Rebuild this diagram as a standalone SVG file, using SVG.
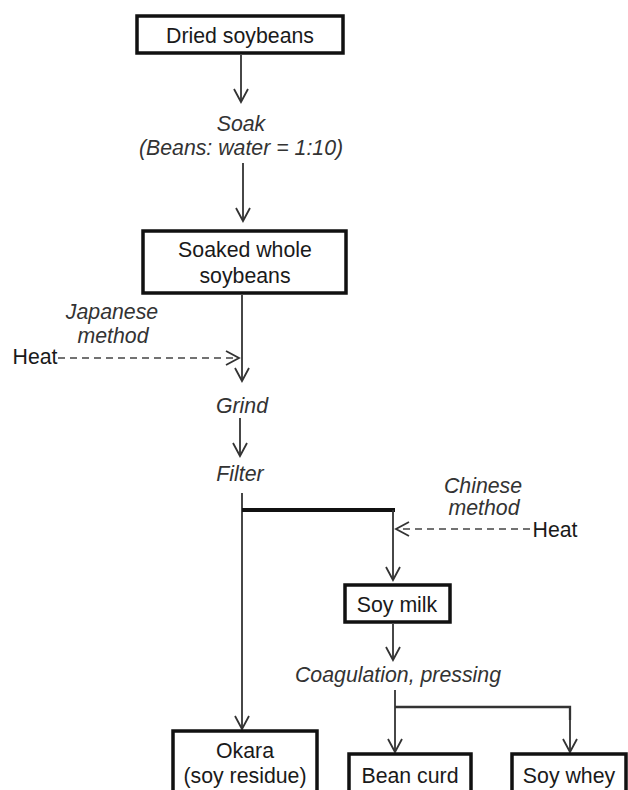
<svg xmlns="http://www.w3.org/2000/svg" width="628" height="790" viewBox="0 0 628 790">
<defs>
<style>
.box{fill:#fff;stroke:#111;stroke-width:3.5}
.t{font-family:"Liberation Sans",Arial,sans-serif;font-size:21.3px;fill:#1a1a1a;text-anchor:middle}
.i{font-family:"Liberation Sans",Arial,sans-serif;font-size:21.3px;font-style:italic;fill:#333;text-anchor:middle}
.ln{fill:none;stroke:#333;stroke-width:1.8}
.th{fill:none;stroke:#111;stroke-width:4}
.ds{fill:none;stroke:#444;stroke-width:1.6;stroke-dasharray:7,5}
</style>
<marker id="ah" viewBox="0 0 16 16" refX="14" refY="8" markerWidth="16" markerHeight="16" markerUnits="userSpaceOnUse" orient="auto">
<path d="M1,1 L14,8 L1,15" fill="none" stroke="#333" stroke-width="1.8"/>
</marker>
</defs>
<rect width="628" height="790" fill="#fff"/>
<g id="connectors">
<line class="ln" x1="241" y1="55" x2="241" y2="102" marker-end="url(#ah)"/>
<line class="ln" x1="243" y1="163" x2="243" y2="221" marker-end="url(#ah)"/>
<line class="ln" x1="242" y1="295" x2="242" y2="381" marker-end="url(#ah)"/>
<line class="ds" x1="58" y1="358" x2="239" y2="358" marker-end="url(#ah)"/>
<line class="ln" x1="240" y1="418" x2="240" y2="456" marker-end="url(#ah)"/>
<line class="ln" x1="242" y1="493" x2="242" y2="729" marker-end="url(#ah)"/>
<polyline class="th" points="242,510 393,510 393,512"/>
<line class="ln" x1="393" y1="510" x2="393" y2="580" marker-end="url(#ah)"/>
<line class="ds" x1="530" y1="529" x2="396" y2="529" marker-end="url(#ah)"/>
<line class="ln" x1="393" y1="624" x2="393" y2="660" marker-end="url(#ah)"/>
<line class="ln" x1="395" y1="690" x2="395" y2="752" marker-end="url(#ah)"/>
<polyline class="ln" style="stroke-width:2.3" points="395,707 570,707 570,720"/>
<line class="ln" x1="570" y1="707" x2="570" y2="752" marker-end="url(#ah)"/>
</g>
<g id="n-dried">
<rect class="box" x="137" y="16" width="206" height="37"/>
<text class="t" x="240" y="43">Dried soybeans</text>
</g>
<g id="n-soak">
<text class="i" x="241" y="131">Soak</text>
<text class="i" x="241" y="155">(Beans: water = 1:10)</text>
</g>
<g id="n-soaked">
<rect class="box" x="143" y="231" width="203" height="62"/>
<text class="t" x="245" y="257">Soaked whole</text>
<text class="t" x="245" y="283">soybeans</text>
</g>
<g id="n-heat-jp">
<text class="t" x="35" y="364">Heat</text>
<text class="i" x="112" y="319">Japanese</text>
<text class="i" x="113" y="343">method</text>
</g>
<g id="n-grind">
<text class="i" x="242" y="413">Grind</text>
</g>
<g id="n-filter">
<text class="i" x="240" y="481">Filter</text>
</g>
<g id="n-heat-cn">
<text class="t" x="555" y="537">Heat</text>
<text class="i" x="483" y="493">Chinese</text>
<text class="i" x="484" y="515">method</text>
</g>
<g id="n-soymilk">
<rect class="box" x="345" y="585" width="105" height="37"/>
<text class="t" x="397" y="612">Soy milk</text>
</g>
<g id="n-coag">
<text class="i" x="398" y="682">Coagulation, pressing</text>
</g>
<g id="n-okara">
<rect class="box" x="173" y="731" width="144" height="80"/>
<text class="t" x="245" y="758">Okara</text>
<text class="t" x="245" y="783">(soy residue)</text>
</g>
<g id="n-beancurd">
<rect class="box" x="349" y="754" width="122" height="60"/>
<text class="t" x="410" y="783">Bean curd</text>
</g>
<g id="n-soywhey">
<rect class="box" x="512" y="754" width="114" height="60"/>
<text class="t" x="569" y="783">Soy whey</text>
</g>
</svg>
